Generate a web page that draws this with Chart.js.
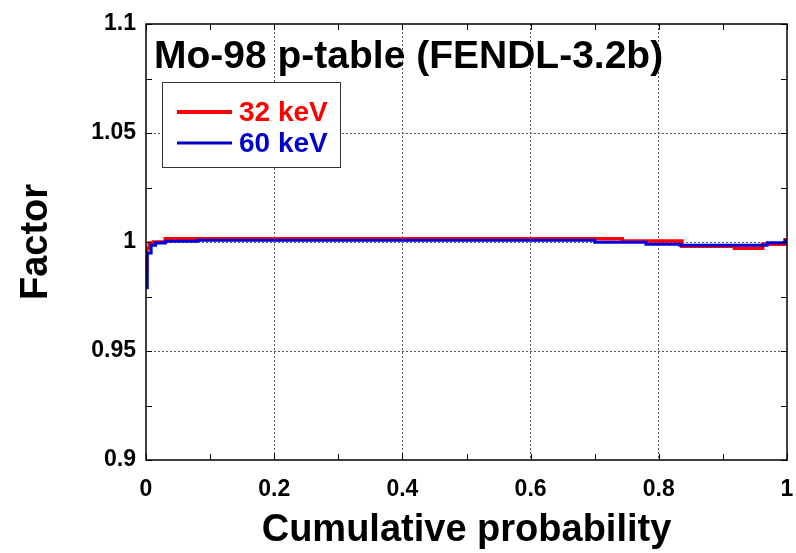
<!DOCTYPE html>
<html>
<head>
<meta charset="utf-8">
<script src="https://cdn.jsdelivr.net/npm/chart.js@4"></script>
<style>
  html, body { margin: 0; padding: 0; background: #fff; }
  #wrap { width: 796px; height: 553px; }
</style>
</head>
<body>
<div id="wrap"><canvas id="factorChart" width="796" height="553"></canvas></div>
<script>
// step data: cumulative probability where a step starts, and the factor
const prob32 = [0, 0.001, 0.005, 0.012, 0.03, 0.743, 0.836, 0.918, 0.962, 0.997, 1];
const factor32 = [0.986, 0.997, 0.9995, 1.0, 1.0015, 1.0005, 0.998, 0.9971, 0.999, 1.001, 1.001];
const prob60 = [0, 0.002, 0.008, 0.015, 0.03, 0.08, 0.70, 0.78, 0.833, 0.969, 0.997, 1];
const factor60 = [0.979, 0.995, 0.9985, 0.9995, 1.0004, 1.0008, 0.9999, 0.999, 0.9985, 0.9996, 1.0006, 1.0006];
const xTicks = [0, 0.2, 0.4, 0.6, 0.8, 1];
const yTicks = [0.9, 0.95, 1, 1.05, 1.1];
const xMinor = [0.1, 0.3, 0.5, 0.7, 0.9];
const yMinor = [0.925, 0.975, 1.025, 1.075];

const titleText = 'Mo-98 p-table (FENDL-3.2b)';
const sans = '"Liberation Sans", Arial, sans-serif';

function toPoints(xs, ys) {
	return xs.map((x, i) => ({ x: x, y: ys[i] }));
}

// frame, inner minor ticks, title and legend box
const decorations = {
	id: 'decorations',
	afterDraw(chart) {
		const ctx = chart.ctx;
		const a = chart.chartArea;
		const xs = chart.scales.x;
		const ys = chart.scales.y;
		ctx.save();
		ctx.strokeStyle = '#000';
		ctx.lineWidth = 1;
		ctx.beginPath();
		xMinor.concat(xTicks).forEach(v => {
			const px = Math.round(xs.getPixelForValue(v)) + 0.5;
			ctx.moveTo(px, a.bottom);
			ctx.lineTo(px, a.bottom - 6);
			ctx.moveTo(px, a.top);
			ctx.lineTo(px, a.top + 6);
		});
		yMinor.concat(yTicks).forEach(v => {
			const py = Math.round(ys.getPixelForValue(v)) + 0.5;
			ctx.moveTo(a.left, py);
			ctx.lineTo(a.left + 6, py);
			ctx.moveTo(a.right, py);
			ctx.lineTo(a.right - 6, py);
		});
		ctx.stroke();
		ctx.lineWidth = 1.5;
		ctx.strokeRect(a.left, a.top, a.right - a.left, a.bottom - a.top);

		// title
		ctx.fillStyle = '#000';
		ctx.font = 'bold 39px ' + sans;
		ctx.textBaseline = 'middle';
		ctx.textAlign = 'left';
		ctx.fillText(titleText, 154, 57);

		// legend
		ctx.fillStyle = '#fff';
		ctx.fillRect(162, 82, 178, 85);
		ctx.lineWidth = 1;
		ctx.strokeStyle = '#333';
		ctx.strokeRect(162.5, 82.5, 178, 85);
		const items = [
			{ label: '32 keV', color: '#ff0000', y: 112, w: 4 },
			{ label: '60 keV', color: '#0000cc', y: 143, w: 3 }
		];
		items.forEach(it => {
			ctx.strokeStyle = it.color;
			ctx.lineWidth = it.w;
			ctx.beginPath();
			ctx.moveTo(177, it.y);
			ctx.lineTo(232, it.y);
			ctx.stroke();
			ctx.fillStyle = it.color;
			ctx.font = 'bold 28px ' + sans;
			ctx.fillText(it.label, 239, it.y + 1);
		});
		ctx.restore();
	}
};

const config = {
	type: 'line',
	data: {
		datasets: [
			{
				label: '60 keV',
				data: toPoints(prob60, factor60),
				borderColor: '#0000dd',
				borderWidth: 3,
				stepped: true,
				pointRadius: 0,
				order: 1,
			},
			{
				label: '32 keV',
				data: toPoints(prob32, factor32),
				borderColor: '#ff0000',
				borderWidth: 3.5,
				stepped: true,
				pointRadius: 0,
				order: 2,
			},
		],
	},
	options: {
		responsive: false,
		animation: false,
		layout: { padding: { top: 24, right: 9, left: 0, bottom: 0 } },
		plugins: { legend: { display: false }, tooltip: { enabled: false } },
		scales: {
			x: {
				type: 'linear',
				min: 0,
				max: 1,
				afterBuildTicks: s => { s.ticks = xTicks.map(v => ({ value: v })); },
				afterFit: s => { s.height = 93; s.paddingRight = 0; s.paddingLeft = 0; },
				grid: {
					color: ctx => (ctx.tick && (ctx.tick.value === 0 || ctx.tick.value === 1)) ? 'rgba(0,0,0,0)' : '#555',
					lineWidth: 1,
					drawTicks: false,
				},
				border: { display: false, dash: [2, 2] },
				ticks: {
					padding: 16,
					color: '#000',
					font: { family: sans, size: 23, weight: 'bold' },
					callback: v => String(+v.toFixed(2)),
				},
				title: {
					display: true,
					text: 'Cumulative probability',
					color: '#000',
					font: { family: sans, size: 38, weight: 'bold' },
					padding: { top: 0, bottom: 0 },
				},
			},
			y: {
				type: 'linear',
				min: 0.9,
				max: 1.1,
				afterBuildTicks: s => { s.ticks = yTicks.map(v => ({ value: v })); },
				afterFit: s => { s.width = 146; s.paddingTop = 0; s.paddingBottom = 0; },
				grid: {
					color: ctx => (ctx.tick && (ctx.tick.value === 0.9 || ctx.tick.value === 1.1)) ? 'rgba(0,0,0,0)' : '#555',
					lineWidth: 1,
					drawTicks: false,
				},
				border: { display: false, dash: [2, 2] },
				ticks: {
					padding: 10,
					color: '#000',
					font: { family: sans, size: 23, weight: 'bold' },
					callback: v => String(+v.toFixed(3)),
				},
				title: {
					display: true,
					text: 'Factor',
					color: '#000',
					font: { family: sans, size: 38, weight: 'bold' },
					padding: { top: 14, bottom: 8 },
				},
			},
		},
	},
	plugins: [decorations],
};

const factorChart = new Chart(document.getElementById('factorChart'), config);
</script>
</body>
</html>
